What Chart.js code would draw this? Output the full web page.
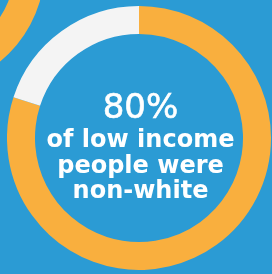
<!DOCTYPE html>
<html>
<head>
<meta charset="utf-8">
<script src="https://cdn.jsdelivr.net/npm/chart.js@4.4.1/dist/chart.umd.min.js"></script>
<style>
    html, body { margin: 0; padding: 0; }
    body { width: 272px; height: 274px; overflow: hidden; position: relative; background: #2b9bd4; }
    #cornerChart { position: absolute; left: -203px; top: -158px; }
    #mainChart { position: absolute; left: 7px; top: 6px; }
    .center-text {
        position: absolute; left: 0; width: 281px; top: 88px;
        text-align: center; color: #fff; font-family: "DejaVu Sans", sans-serif;
    }
    .center-text .big { font-size: 34px; font-weight: 400; line-height: 36px; -webkit-text-stroke: 0.6px #fff; }
    .center-text .small { font-size: 24px; font-weight: 700; line-height: 25.5px; margin-top: 3px; }
</style>
</head>
<body>
<canvas id="cornerChart" width="248" height="248"></canvas>
<canvas id="mainChart" width="264" height="264"></canvas>
<div class="center-text">
    <div class="big" id="bigLabel"></div>
    <div class="small" id="smallLabel"></div>
</div>
<script>
    // chart data
    const labels = ["Non-white", "White"];
    const shares = [80, 20];
    const colors = ["#f9af3e", "#f4f4f4"];
    const headline = "80%";
    const captionLines = ["of low income", "people were", "non-white"];

    // neighbouring chart peeking in at the corner
    const cornerShares = [100];
    const cornerColors = ["#f9af3e"];

    document.getElementById("bigLabel").textContent = headline;
    document.getElementById("smallLabel").innerHTML = captionLines.join("<br>");

    const baseOptions = {
        responsive: false,
        animation: false,
        devicePixelRatio: 1,
        layout: { padding: 0 },
        plugins: {
            legend: { display: false },
            tooltip: { enabled: false },
        },
    };

    new Chart(document.getElementById("mainChart"), {
        type: "doughnut",
        data: {
            labels: labels,
            datasets: [
                {
                    data: shares,
                    backgroundColor: colors,
                    borderWidth: 0,
                },
            ],
        },
        options: Object.assign({}, baseOptions, { cutout: "78.8%" }),
    });

    new Chart(document.getElementById("cornerChart"), {
        type: "doughnut",
        data: {
            labels: ["Other"],
            datasets: [
                {
                    data: cornerShares,
                    backgroundColor: cornerColors,
                    borderWidth: 0,
                },
            ],
        },
        options: Object.assign({}, baseOptions, { cutout: "76%" }),
    });
</script>
</body>
</html>
